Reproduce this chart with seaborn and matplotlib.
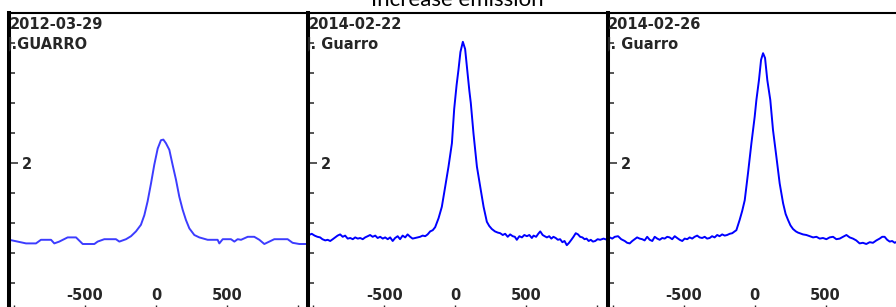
import matplotlib
matplotlib.use("Agg")
import matplotlib.pyplot as plt
import pandas as pd
import seaborn as sns

TITLE = "Increase emission"
DATES = ["2012-03-29", "2014-02-22", "2014-02-26"]
OBSERVERS = ["J.GUARRO", "J. Guarro", "J. Guarro"]

# velocity (km/s) vs relative flux
vel_1 = [-1033, -915, -845, -810, -739, -716, -681, -622, -563, -516,
         -481, -434, -411, -364, -282, -258, -211, -176, -141, -106,
         -82, -59, -35, -12, 12, 35, 52, 70, 94, 117,
         141, 164, 188, 211, 235, 270, 305, 364, 434, 446,
         470, 528, 552, 575, 599, 646, 692, 728, 763, 798,
         833, 927, 962, 1009, 1070]
flux_1 = [0.72, 0.66, 0.66, 0.72, 0.72, 0.66, 0.69, 0.76, 0.76, 0.65,
          0.65, 0.65, 0.69, 0.73, 0.73, 0.69, 0.73, 0.78, 0.86, 0.97,
          1.13, 1.36, 1.66, 1.97, 2.24, 2.38, 2.39, 2.33, 2.22, 1.97,
          1.72, 1.44, 1.22, 1.05, 0.91, 0.80, 0.76, 0.72, 0.72, 0.66,
          0.73, 0.73, 0.69, 0.73, 0.72, 0.77, 0.77, 0.72, 0.65, 0.69,
          0.73, 0.73, 0.67, 0.65, 0.65]

vel_2 = [-1030, -1010, -990, -970, -951, -935, -915, -898, -880, -862,
         -845, -828, -810, -792, -775, -757, -739, -721, -704, -686,
         -669, -651, -634, -616, -599, -581, -563, -546, -528, -510,
         -493, -475, -458, -440, -423, -405, -388, -370, -352, -335,
         -317, -300, -282, -264, -247, -229, -211, -194, -176, -158,
         -141, -117, -94, -70, -47, -23, -7, 10, 23, 37,
         54, 70, 87, 100, 110, 129, 153, 176, 200, 223,
         240, 258, 280, 300, 317, 335, 352, 370, 387, 405,
         420, 434, 452, 470, 487, 505, 522, 540, 552, 570,
         585, 599, 616, 630, 646, 662, 677, 692, 708, 723,
         739, 755, 770, 786, 802, 818, 833, 849, 865, 880,
         896, 911, 925, 940, 955, 970, 986, 1003, 1021, 1045, 1070]
flux_2 = [0.80, 0.82, 0.79, 0.77, 0.76, 0.73, 0.71, 0.72, 0.70, 0.73,
          0.76, 0.79, 0.81, 0.77, 0.79, 0.74, 0.75, 0.73, 0.76, 0.74,
          0.75, 0.73, 0.76, 0.78, 0.80, 0.77, 0.79, 0.75, 0.77, 0.74,
          0.76, 0.73, 0.76, 0.70, 0.75, 0.78, 0.73, 0.79, 0.76, 0.81,
          0.77, 0.74, 0.75, 0.76, 0.77, 0.79, 0.78, 0.81, 0.86, 0.88,
          0.93, 1.08, 1.27, 1.61, 1.94, 2.33, 2.90, 3.30, 3.55, 3.85,
          4.02, 3.90, 3.50, 3.20, 3.00, 2.49, 1.94, 1.61, 1.27, 1.02,
          0.95, 0.90, 0.86, 0.84, 0.83, 0.80, 0.82, 0.77, 0.81, 0.78,
          0.77, 0.72, 0.78, 0.76, 0.80, 0.78, 0.80, 0.75, 0.79, 0.77,
          0.82, 0.86, 0.80, 0.78, 0.76, 0.78, 0.74, 0.77, 0.75, 0.72,
          0.73, 0.68, 0.70, 0.63, 0.67, 0.72, 0.77, 0.83, 0.81, 0.77,
          0.76, 0.73, 0.74, 0.70, 0.72, 0.69, 0.70, 0.73, 0.72, 0.74, 0.72]

vel_3 = [-1021, -1003, -985, -962, -940, -915, -898, -880, -862, -845,
         -828, -810, -792, -775, -757, -739, -721, -704, -686, -669,
         -651, -634, -616, -599, -581, -563, -546, -528, -510, -493,
         -475, -458, -440, -423, -405, -388, -370, -352, -335, -317,
         -300, -282, -264, -247, -229, -211, -194, -176, -158, -141,
         -129, -106, -88, -70, -47, -23, 0, 12, 30, 45,
         59, 73, 89, 110, 129, 153, 176, 200, 218, 235,
         252, 270, 290, 305, 317, 340, 364, 388, 411, 435,
         458, 481, 505, 528, 552, 575, 599, 622, 646, 669,
         692, 715, 739, 762, 786, 810, 833, 857, 880, 898,
         915, 933, 951, 968, 986, 1003, 1021, 1045, 1070]
flux_3 = [0.76, 0.74, 0.77, 0.78, 0.73, 0.70, 0.67, 0.66, 0.70, 0.73,
          0.76, 0.74, 0.73, 0.71, 0.77, 0.72, 0.70, 0.77, 0.74, 0.72,
          0.75, 0.74, 0.77, 0.76, 0.73, 0.78, 0.75, 0.72, 0.70, 0.74,
          0.73, 0.76, 0.74, 0.77, 0.79, 0.76, 0.75, 0.77, 0.74, 0.75,
          0.78, 0.76, 0.80, 0.78, 0.81, 0.79, 0.80, 0.82, 0.83, 0.86,
          0.88, 1.05, 1.20, 1.38, 1.83, 2.33, 2.77, 3.05, 3.38, 3.72,
          3.83, 3.75, 3.38, 3.05, 2.55, 2.10, 1.66, 1.33, 1.15, 1.05,
          0.96, 0.90, 0.86, 0.84, 0.83, 0.81, 0.80, 0.78, 0.76, 0.77,
          0.74, 0.75, 0.73, 0.76, 0.77, 0.73, 0.74, 0.77, 0.80, 0.76,
          0.74, 0.71, 0.66, 0.67, 0.65, 0.68, 0.67, 0.71, 0.74, 0.77,
          0.77, 0.72, 0.69, 0.70, 0.67, 0.69, 0.72, 0.70, 0.72]

X_TICKS = [-1000, -500, 0, 500, 1000]
X_TICK_LABELS = ["", "-500", "0", "500", ""]
Y_TICKS = [2]
Y_TICK_LABELS = ["2"]
Y_MINOR_TICKS = [0, 0.5, 1, 1.5, 2.5, 3, 3.5, 4, 4.5]

XLIM = (-1035, 1074)
YLIM = (-0.45, 4.5)

LINE_COLORS = ["#3c3cff", "#0000ff", "#0000ff"]
TEXT_COLOR = "#262626"

# panel placement in pixels
W, H = 896, 307
PANEL_LEFT = [9.0, 308.2, 607.7]
PANEL_W = 299.5
TOP, BOTTOM = 13, 310

sns.set_style("white")
plt.rcParams["font.family"] = ["DejaVu Sans"]

fig = plt.figure(figsize=(W / 100, H / 100), dpi=100)

panels = [(vel_1, flux_1), (vel_2, flux_2), (vel_3, flux_3)]
for i, (vel, flux) in enumerate(panels):
    df = pd.DataFrame({"velocity": vel, "flux": flux})
    ax = fig.add_axes([PANEL_LEFT[i] / W, (H - BOTTOM) / H,
                       PANEL_W / W, (BOTTOM - TOP) / H])
    sns.lineplot(data=df, x="velocity", y="flux", ax=ax,
                 color=LINE_COLORS[i], linewidth=1.4, legend=False)

    ax.set_xlim(*XLIM)
    ax.set_ylim(*YLIM)
    ax.set_xlabel("")
    ax.set_ylabel("")

    ax.set_xticks(X_TICKS)
    ax.set_xticklabels(X_TICK_LABELS)
    ax.set_yticks(Y_TICKS)
    ax.set_yticklabels(Y_TICK_LABELS)
    ax.set_yticks(Y_MINOR_TICKS, minor=True)

    ax.tick_params(axis="x", direction="in", length=3.6, width=1.0,
                   pad=-16, labelsize=10.5, labelcolor=TEXT_COLOR,
                   bottom=True)
    ax.tick_params(axis="y", which="major", direction="in", length=6.5,
                   width=1.1, pad=-16.5, labelsize=10.5,
                   labelcolor=TEXT_COLOR, left=True)
    ax.tick_params(axis="y", which="minor", direction="in", length=4,
                   width=1.1, left=True)
    for lab in ax.get_xticklabels() + ax.get_yticklabels():
        lab.set_fontweight("bold")

    ax.spines["left"].set_linewidth(2.9)
    ax.spines["top"].set_linewidth(1.5)
    ax.spines["right"].set_visible(False)
    ax.spines["bottom"].set_visible(False)
    for side in ["left", "top"]:
        ax.spines[side].set_color("black")

    # header text sits against the left spine, first glyph partly hidden
    ax.annotate(DATES[i], xy=(0, 1), xycoords="axes fraction",
                xytext=(0.3, -2.6), textcoords="offset points",
                ha="left", va="top", fontsize=10.5, fontweight="bold",
                color=TEXT_COLOR, clip_on=True)
    ax.annotate(OBSERVERS[i], xy=(0, 1), xycoords="axes fraction",
                xytext=(-1.6, -17.2), textcoords="offset points",
                ha="left", va="top", fontsize=10.5, fontweight="bold",
                color=TEXT_COLOR, clip_on=True)

fig.text(457.5 / W, 1 - 6 / H, TITLE, ha="center", va="baseline",
         fontsize=16, family=["Lato", "DejaVu Sans"], color="black")

fig.savefig("out.png", dpi=100)
plt.close(fig)
